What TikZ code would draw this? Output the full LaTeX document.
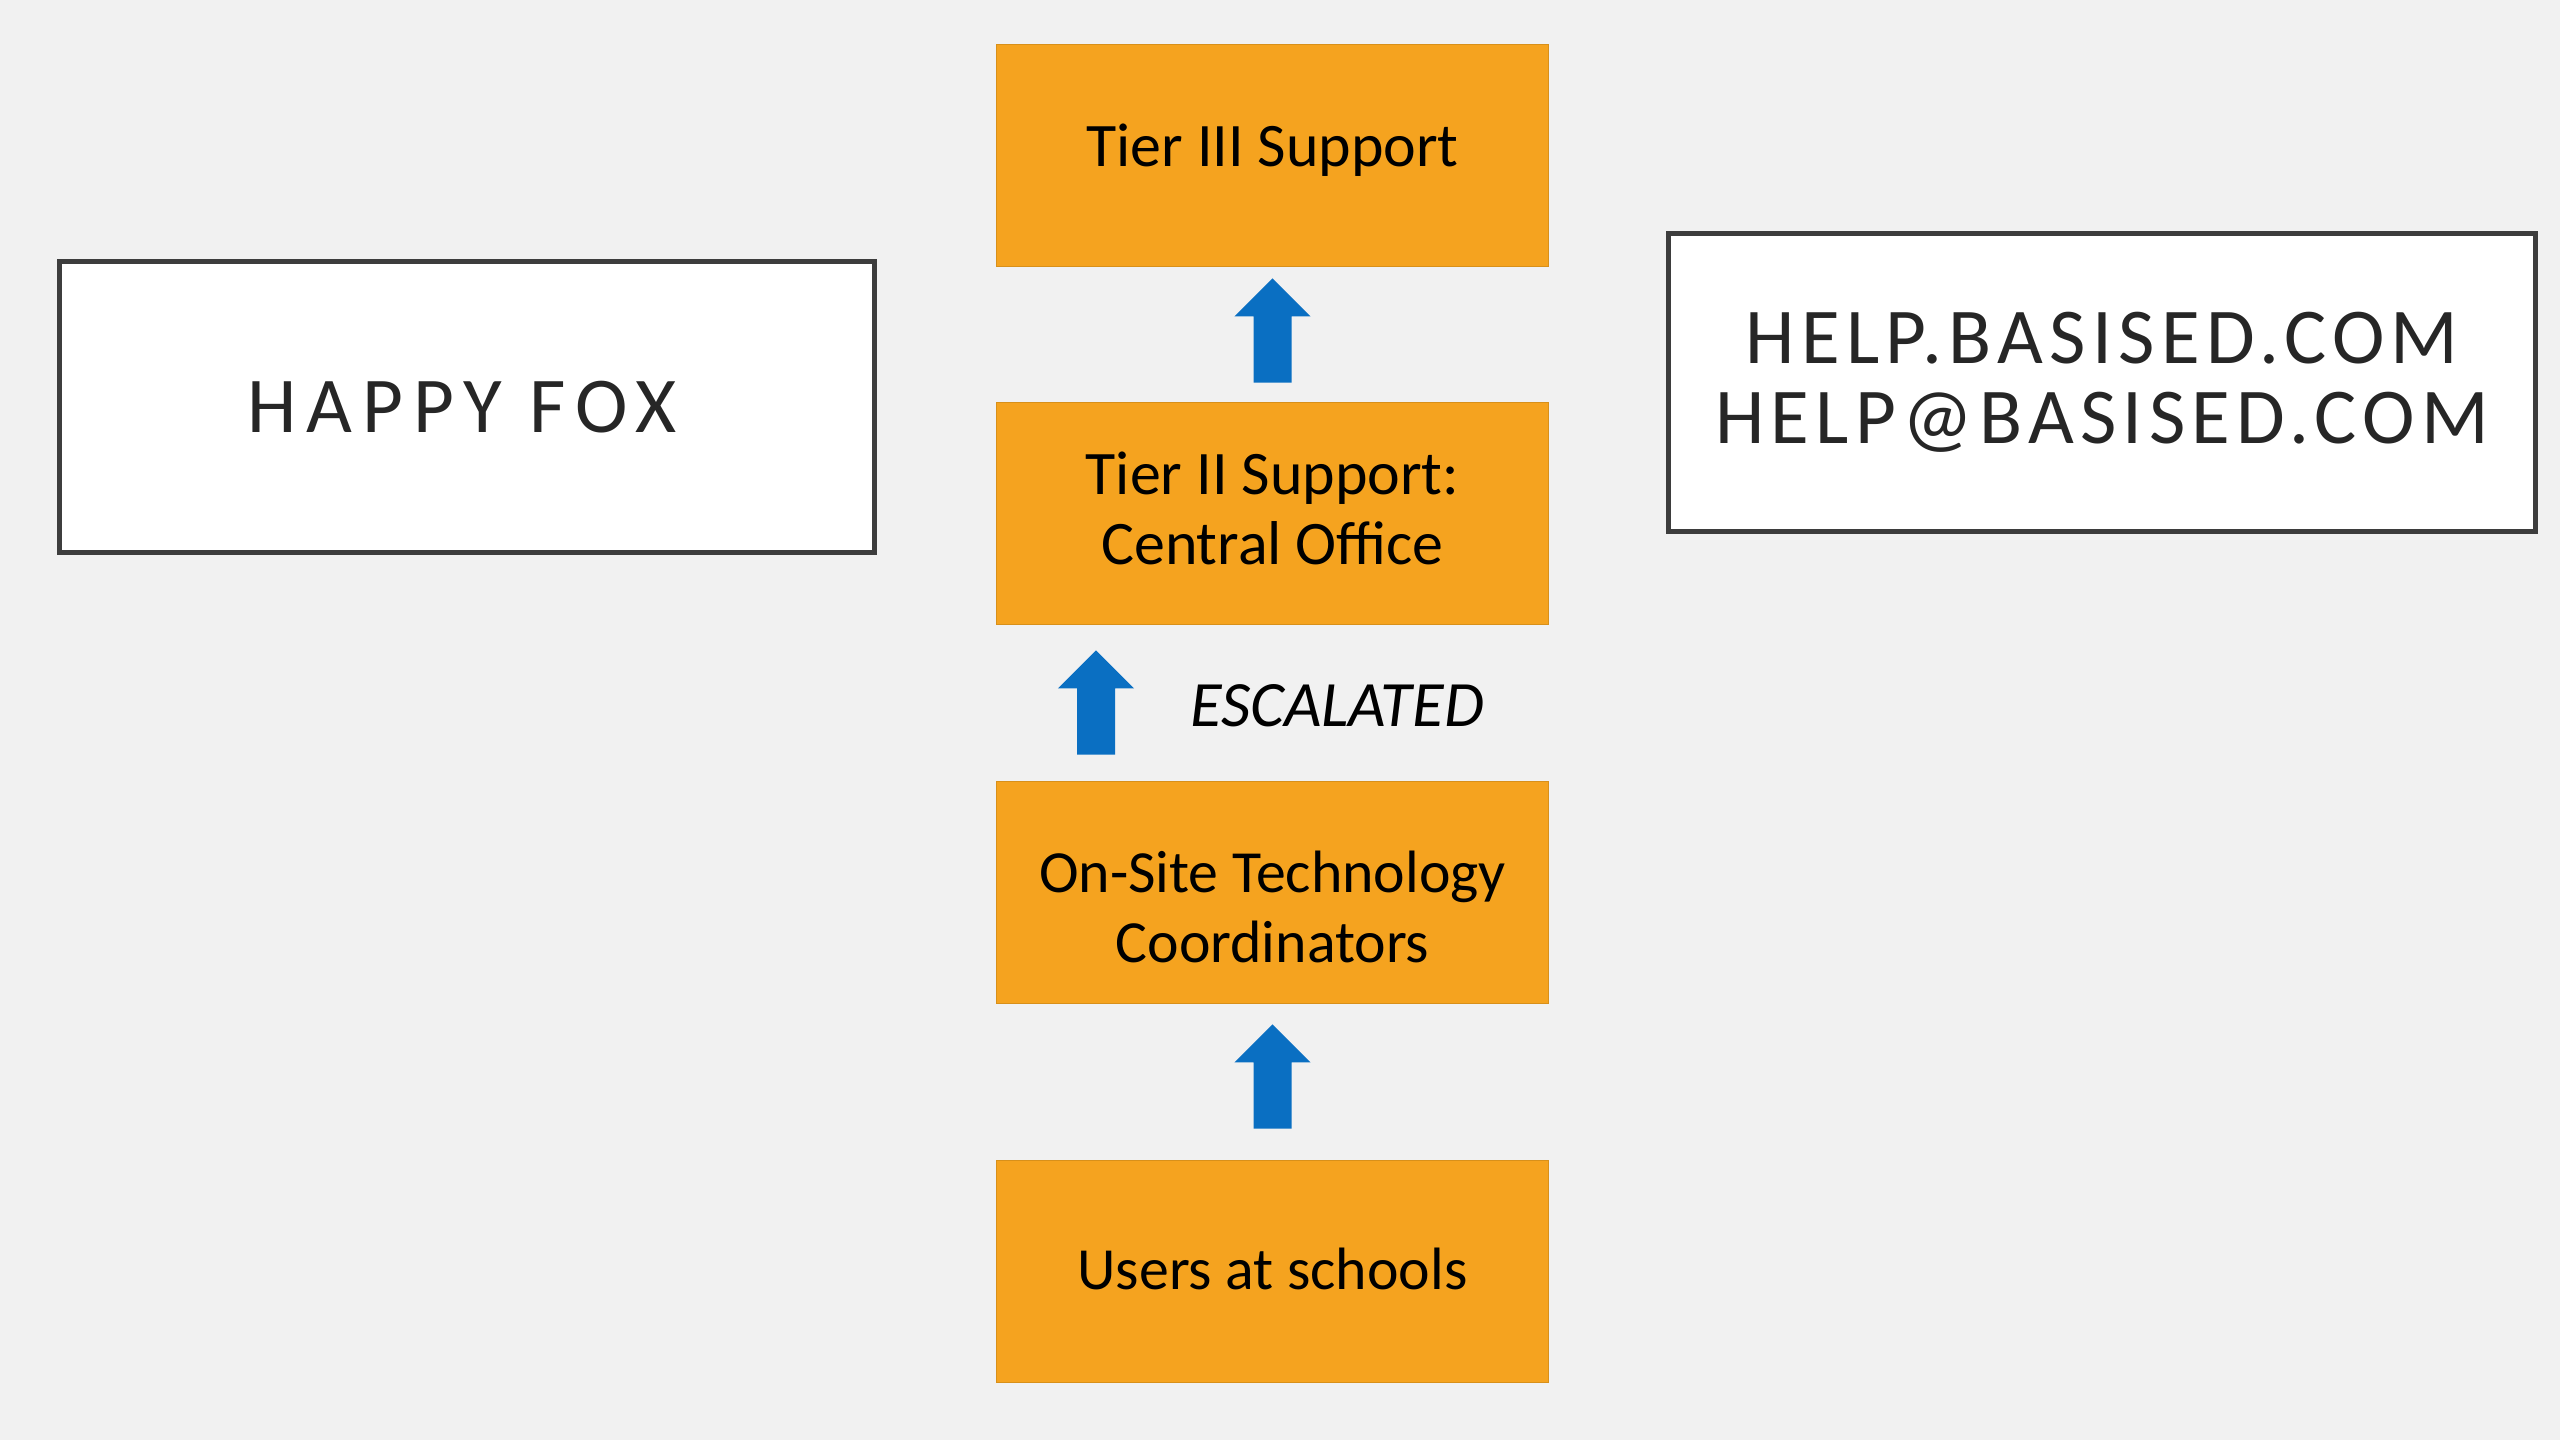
\documentclass[tikz,border=0pt]{standalone}
\usepackage{fontspec}
\setmainfont{Carlito}
\newfontfamily\foxfont[LetterSpace=12.5]{Carlito}
\newfontfamily\helpfont[LetterSpace=8]{Carlito}
\usetikzlibrary{calc}
\definecolor{bgcol}{HTML}{F1F1F1}
\definecolor{orfill}{HTML}{F5A31F}
\definecolor{ordraw}{HTML}{D8901A}
\definecolor{arrblue}{HTML}{0A6FC2}
\definecolor{boxline}{HTML}{3D3D3D}
\definecolor{txtgray}{HTML}{262626}
\newcommand\upblock[2]{%
  \fill[uparrow] let \p1=#1, \p2=#2 in
    (\x1-0.19cm,\y1) -- (\x1-0.19cm,\y2-0.38cm) -- (\x1-0.38cm,\y2-0.38cm) --
    (\x1,\y2) -- (\x1+0.38cm,\y2-0.38cm) -- (\x1+0.19cm,\y2-0.38cm) --
    (\x1+0.19cm,\y1) -- cycle;}
\begin{document}
\begin{tikzpicture}[x=0.01cm,y=0.01cm,
  tierbox/.style={draw=ordraw, line width=0.015cm, fill=orfill,
    minimum width=5.52cm, minimum height=2.22cm, inner sep=0pt},
  tiertext/.style={inner sep=0pt, align=center, text=black,
    font=\fontsize{17.6pt}{19.9pt}\selectfont},
  whitebox/.style={draw=boxline, line width=0.05cm, fill=white,
    inner sep=0pt, align=center, text=txtgray},
  uparrow/.style={fill=arrblue}]
\fill[bgcol] (0,0) rectangle (2560,1440);
\useasboundingbox (0,0) rectangle (2560,1440);

\node[tierbox] (tier3) at (1272.5,1284.5) {};
\node[tierbox] (tier2) at (1272.5,926.5) {};
\node[tierbox] (onsite) at (1272.5,547.5) {};
\node[tierbox] (users) at (1272.5,168.5) {};

\node[tiertext] (tier3t) at ($(tier3.center)+(0,5)$) {Tier III Support};
\node[tiertext] (tier2t) at ($(tier2.center)+(0,5)$) {Tier II Support:\\Central Office};
\node[tiertext, font=\fontsize{17pt}{19.9pt}\selectfont] (onsitet)
  at ($(onsite.center)+(0,-14)$) {On-Site Technology\\Coordinators};
\node[tiertext, font=\fontsize{17pt}{19.9pt}\selectfont] (userst)
  at ($(users.center)+(0,3)$) {Users at schools};

\node[whitebox, minimum width=8.15cm, minimum height=2.91cm] (fox) at (467,1033) {};
\node[inner sep=0pt, text=txtgray, font=\foxfont\fontsize{22.5pt}{22.8pt}\selectfont]
  (foxt) at ($(fox.center)+(-5,0)$) {HAPPY FOX};
\node[whitebox, minimum width=8.67cm, minimum height=2.98cm,
  font=\helpfont\fontsize{22.5pt}{22.8pt}\selectfont] (help) at (2102,1057.5)
  {HELP.BASISED.COM\\HELP@BASISED.COM};

\node[anchor=base, font=\itshape\fontsize{18.4pt}{20pt}\selectfont, text=black]
  (esc) at (1337,713) {ESCALATED};

\upblock{($(tier2.north)+(0,19)$)}{($(tier3.south)+(0,-11)$)}
\upblock{($(onsite.north)+(-176.5,26)$)}{($(tier2.south)+(-176.5,-25)$)}
\upblock{($(users.north)+(0,31)$)}{($(onsite.south)+(0,-20)$)}
\end{tikzpicture}
\end{document}
